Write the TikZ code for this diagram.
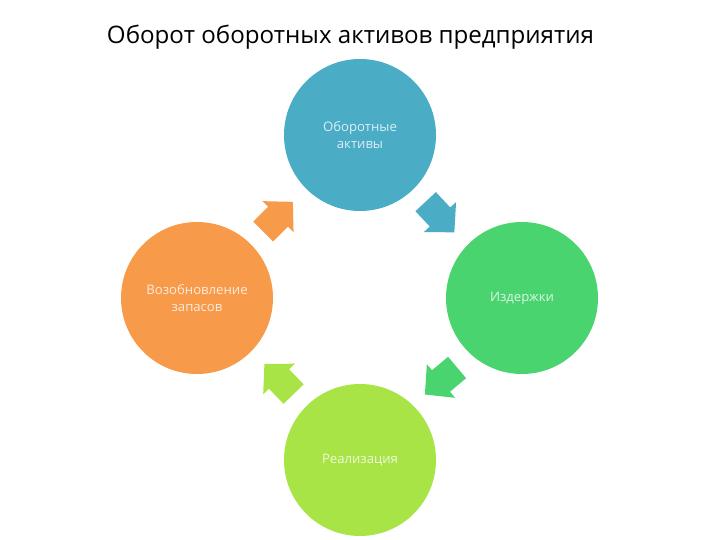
\documentclass[tikz,border=0pt]{standalone}
\usepackage{fontspec}
\setmainfont{Open Sans}
\definecolor{cblue}{HTML}{4BACC6}
\definecolor{cgreen}{HTML}{4AD470}
\definecolor{clime}{HTML}{A8E446}
\definecolor{corange}{HTML}{F79A4A}
\tikzset{
  disc/.style={circle, minimum size=152bp, inner sep=0pt, draw=none},
  disctext/.style={text=white, text opacity=0.8, font=\fontsize{13.2}{17}\selectfont, align=center},
}
\newcommand{\cyclearrowshape}[3]{%
  \begin{scope}[shift={#1}, rotate=#2]
    \fill[#3] (-21,-14) -- (0,-14) -- (0,-22) -- (21,0) -- (0,22) -- (0,14) -- (-21,14) -- cycle;
  \end{scope}}
\begin{document}
\begin{tikzpicture}[x=1bp, y=-1bp]
\useasboundingbox (0,0) rectangle (720,540);
\node[font=\fontsize{24.2}{28}\selectfont, anchor=center] (title) at (350.5,37) {Оборот оборотных активов предприятия};
\node[disc, fill=cblue] (top) at (360,135) {};
\node[disc, fill=cgreen] (right) at (522,298) {};
\node[disc, fill=clime] (bottom) at (360,460) {};
\node[disc, fill=corange] (left) at (197,298) {};
\node[disctext] (ttop) at (top) {Оборотные\\активы};
\node[disctext] (tright) at (right) {Издержки};
\node[disctext] (tbottom) at (bottom) {Реализация};
\node[disctext] (tleft) at (left) {Возобновление\\запасов};
\cyclearrowshape{(278,216.7)}{45}{corange}
\cyclearrowshape{(440,217)}{-47}{cblue}
\cyclearrowshape{(441,381)}{-140}{cgreen}
\cyclearrowshape{(279,379)}{134}{clime}
\end{tikzpicture}
\end{document}
